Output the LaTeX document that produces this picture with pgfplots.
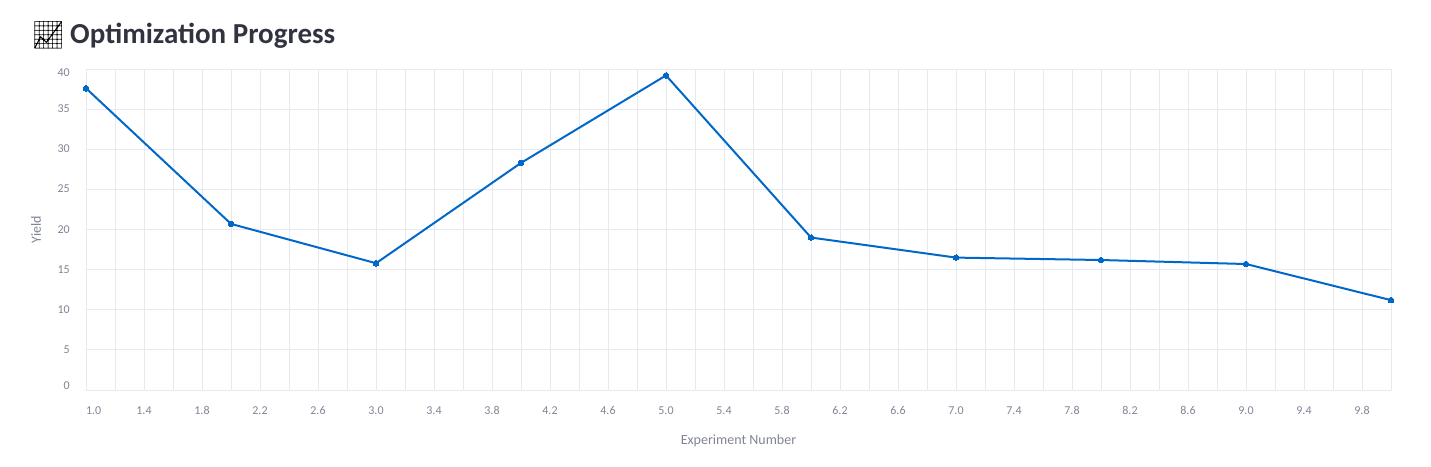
\documentclass[border=0pt]{standalone}
\usepackage{pgfplots}
\pgfplotsset{compat=1.18}
\usepackage{fontspec}
\setmainfont{Carlito}
\newfontfamily\emojifont{Noto Emoji}
\definecolor{gridc}{HTML}{E6E9EF}
\definecolor{tickc}{HTML}{808495}
\definecolor{titlec}{HTML}{31333F}
\definecolor{linec}{HTML}{0068C9}
\begin{document}
\begin{tikzpicture}
\begin{axis}[
  name=ax, at={(0,0)}, anchor=south west,
  scale only axis, width=1305pt, height=321pt,
  xmin=1, xmax=10, ymin=0, ymax=40,
  /pgf/number format/assume math mode=true,
  xtick={1,1.4,1.8,2.2,2.6,3,3.4,3.8,4.2,4.6,5,5.4,5.8,6.2,6.6,7,7.4,7.8,8.2,8.6,9,9.4,9.8},
  minor xtick={1.2,1.6,2,2.4,2.8,3.2,3.6,4,4.4,4.8,5.2,5.6,6,6.4,6.8,7.2,7.6,8,8.4,8.8,9.2,9.6,10},
  ytick={0,5,10,15,20,25,30,35,40},
  xmajorgrids, xminorgrids, ymajorgrids,
  grid style={gridc, line width=0.8pt},
  minor grid style={gridc, line width=0.8pt},
  axis line style={gridc, line width=0.8pt},
  major tick length=0pt, minor tick length=0pt,
  tick label style={font=\fontsize{12}{14}\selectfont, text=tickc, inner sep=0pt},
  xticklabel={\ifnum\ticknum=0 \makebox[0pt][l]{\pgfmathprintnumber[fixed,fixed zerofill,precision=1]{\tick}}\else\pgfmathprintnumber[fixed,fixed zerofill,precision=1]{\tick}\fi},
  xticklabel style={anchor=north, yshift=-16pt, text height=8pt, text depth=0pt},
  yticklabel={\ifnum\ticknum=0 \raisebox{4pt}{\pgfmathprintnumber{\tick}}\else\ifnum\ticknum=8 \raisebox{-4pt}{\pgfmathprintnumber{\tick}}\else\pgfmathprintnumber{\tick}\fi\fi},
  yticklabel style={anchor=east, xshift=-16pt, text height=7pt, text depth=0pt},
  xlabel={Experiment Number},
  ylabel={Yield},
  label style={font=\fontsize{14}{16}\selectfont, text=tickc},
  xlabel style={at={(axis description cs:0.5,-0.1573)}, anchor=center},
  ylabel style={at={(axis description cs:-0.0383,0.5)}, anchor=center},
  clip=false,
]
\addplot[linec, line width=2pt, mark=*, mark size=2.8pt, mark options={fill=linec, draw=linec, line width=0pt}]
  coordinates {(1,37.6) (2,20.7) (3,15.8) (4,28.3) (5,39.2) (6,19.0) (7,16.5) (8,16.2) (9,15.7) (10,11.2)};
\end{axis}
\node[anchor=base west, inner sep=0, text=titlec, font=\fontsize{29}{33}\selectfont\bfseries] at ([xshift=-16pt,yshift=26pt]ax.north west) {Optimization Progress};
\node[anchor=base west, inner sep=0, font=\fontsize{27}{30}\emojifont] at ([xshift=-55pt,yshift=25pt]ax.north west) {📈};
\pgfresetboundingbox
\path[use as bounding box] ([xshift=-86pt,yshift=-76pt]ax.south west) rectangle ([xshift=40pt,yshift=69pt]ax.north east);
\end{tikzpicture}
\end{document}
